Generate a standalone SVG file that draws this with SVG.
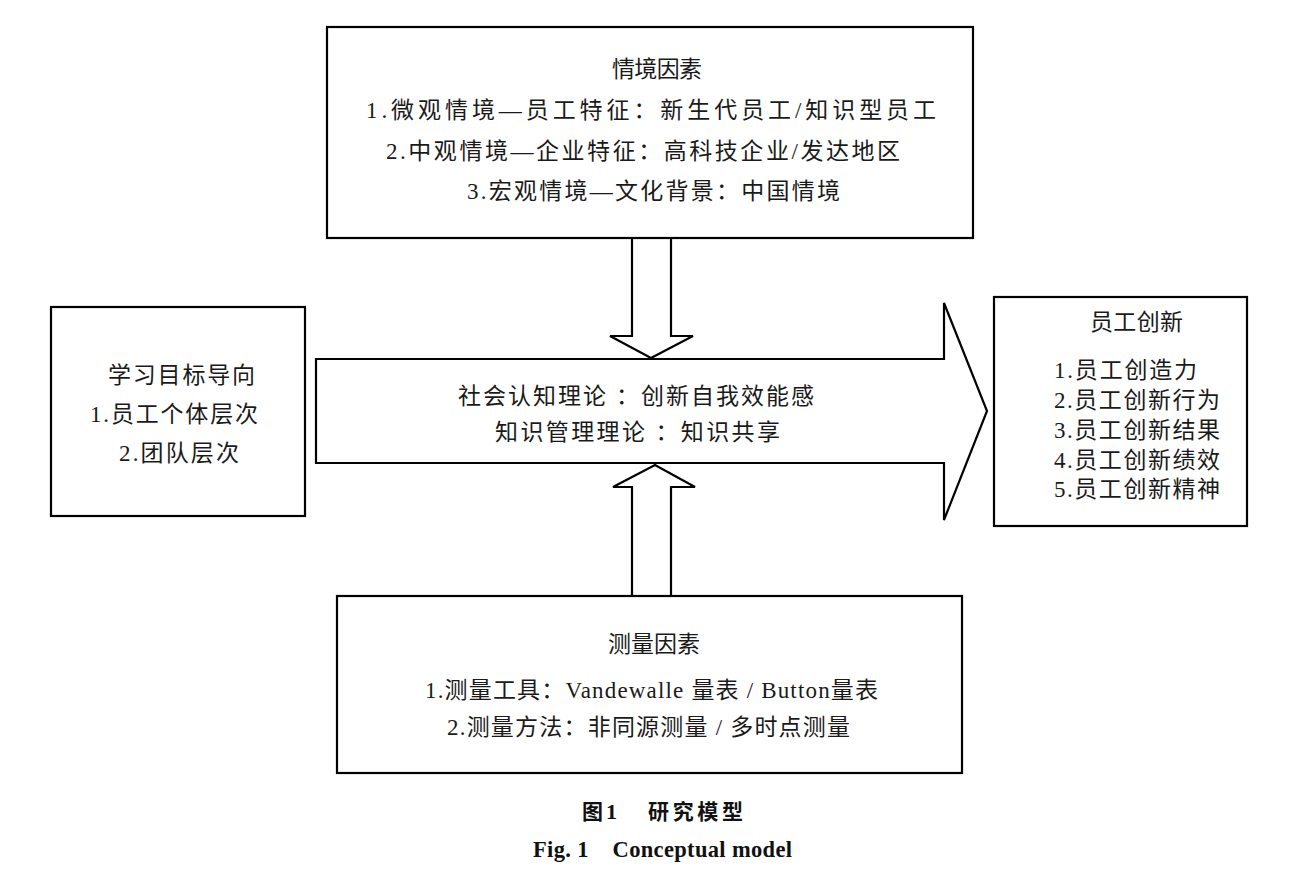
<svg xmlns="http://www.w3.org/2000/svg" width="1300" height="870" viewBox="0 0 1300 870">
<style>
.box{fill:#fff;stroke:#000;stroke-width:2.2}
.arr{fill:#fff;stroke:#000;stroke-width:2.2;stroke-linejoin:miter}
.t{font-family:"Liberation Serif","Noto Sans CJK SC",serif;font-size:23px;font-weight:normal;fill:#1a1a1a}
.cap{font-family:"Liberation Serif","Noto Sans CJK SC",serif;font-weight:bold;fill:#111}
</style>
<rect width="1300" height="870" fill="#fff"/>
<g id="connectors">
<polyline class="arr" points="632,238 632,336 610,336 651,358 693,336 671,336 671,238"/>
<polyline class="arr" points="632,596 632,487 613,487 655,465 695,487 671,487 671,596"/>
</g>
<g id="node-mechanism">
<polygon class="arr" points="316,359 944,359 944,303 987,411 944,520 944,463 316,463"/>
<text class="t" x="458" y="404" textLength="356" lengthAdjust="spacing">社会认知理论 ：创新自我效能感</text>
<text class="t" x="495" y="440" textLength="285" lengthAdjust="spacing">知识管理理论 ：知识共享</text>
</g>
<g id="node-context">
<rect class="box" x="327" y="27" width="646" height="211"/>
<text class="t" x="612" y="77" textLength="90" lengthAdjust="spacing">情境因素</text>
<text class="t" x="366" y="118" textLength="570" lengthAdjust="spacing">1.微观情境—员工特征：新生代员工/知识型员工</text>
<text class="t" x="386" y="159" textLength="514" lengthAdjust="spacing">2.中观情境—企业特征：高科技企业/发达地区</text>
<text class="t" x="467" y="199" textLength="373" lengthAdjust="spacing">3.宏观情境—文化背景：中国情境</text>
</g>
<g id="node-goal">
<rect class="box" x="51" y="307" width="254" height="209"/>
<text class="t" x="108" y="383" textLength="147" lengthAdjust="spacing">学习目标导向</text>
<text class="t" x="90" y="422" textLength="168" lengthAdjust="spacing">1.员工个体层次</text>
<text class="t" x="119" y="461" textLength="120" lengthAdjust="spacing">2.团队层次</text>
</g>
<g id="node-innovation">
<rect class="box" x="994" y="297" width="253" height="229"/>
<text class="t" x="1090" y="330" textLength="93" lengthAdjust="spacing">员工创新</text>
<text class="t" x="1054" y="378" textLength="143" lengthAdjust="spacing">1.员工创造力</text>
<text class="t" x="1054" y="408" textLength="166" lengthAdjust="spacing">2.员工创新行为</text>
<text class="t" x="1054" y="438" textLength="166" lengthAdjust="spacing">3.员工创新结果</text>
<text class="t" x="1054" y="468" textLength="166" lengthAdjust="spacing">4.员工创新绩效</text>
<text class="t" x="1054" y="497" textLength="166" lengthAdjust="spacing">5.员工创新精神</text>
</g>
<g id="node-measure">
<rect class="box" x="337" y="596" width="625" height="177"/>
<text class="t" x="608" y="652" textLength="92" lengthAdjust="spacing">测量因素</text>
<text class="t" x="425" y="698" textLength="453" lengthAdjust="spacing">1.测量工具：Vandewalle 量表 / Button量表</text>
<text class="t" x="447" y="735" textLength="403" lengthAdjust="spacing">2.测量方法：非同源测量 / 多时点测量</text>
</g>
<g id="caption">
<text class="cap" x="582" y="819" font-size="21">图<tspan x="606" font-size="22">1</tspan><tspan x="648" textLength="95" lengthAdjust="spacing">研究模型</tspan></text>
<text class="cap" x="533" y="857" font-size="22.5" textLength="259" lengthAdjust="spacing" xml:space="preserve">Fig. 1    Conceptual model</text>
</g>
</svg>
